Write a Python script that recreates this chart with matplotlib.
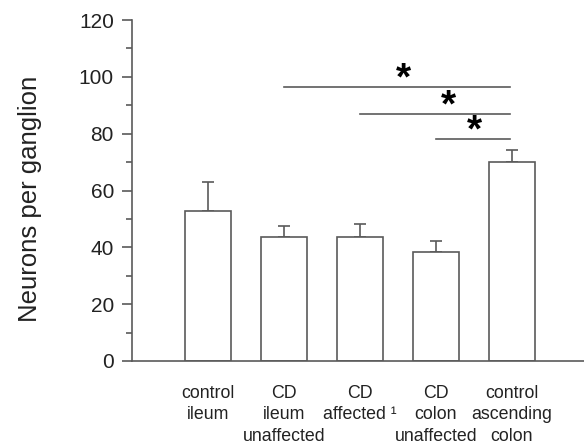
import matplotlib
matplotlib.use('Agg')
import matplotlib.pyplot as plt
import numpy as np

plt.rcParams['font.family'] = ['Liberation Sans', 'DejaVu Sans']

# data
groups = ['control\nileum', 'CD\nileum\nunaffected', 'CD\naffected \u00b9',
          'CD\ncolon\nunaffected', 'control\nascending\ncolon']
means = [52.8, 43.5, 43.6, 38.4, 70.1]
sem = [10.1, 3.9, 4.5, 3.7, 4.1]
# significance brackets: from group index to last group, at height
sig_from = [2, 3, 4]
sig_to = 5
sig_height = [96.5, 87.0, 78.0]
star_x = [3.57, 4.16, 4.5]

line_col = '#5a5a5a'
txt_col = '#222222'

fig = plt.figure(figsize=(5.84, 4.46), dpi=100)
ax = fig.add_axes([132 / 584, 1 - 361 / 446, 1 - 132 / 584, (361 - 20) / 446])

x = np.arange(1, len(means) + 1)
ax.bar(x, means, width=0.6, color='white', edgecolor=line_col, linewidth=1.2, zorder=2)
ax.errorbar(x, means, yerr=[np.zeros(len(sem)), sem], fmt='none',
            ecolor=line_col, elinewidth=1.2, capsize=4, capthick=1.2, zorder=1)

for a, h, sx in zip(sig_from, sig_height, star_x):
    ax.plot([a, sig_to - 0.03], [h, h], color=line_col, lw=1.2)
    ax.text(sx, h + 2.6, '*', ha='center', va='center',
            fontsize=28, fontweight='bold', color='black')

ax.set_xlim(0, 452 / 76)
ax.set_ylim(0, 120)
ax.set_yticks(np.arange(0, 121, 20))
ax.set_yticks(np.arange(10, 120, 20), minor=True)
ax.tick_params(axis='y', which='major', length=7, width=1.2, color=line_col,
               labelsize=15, labelcolor=txt_col, pad=6)
ax.tick_params(axis='y', which='minor', length=4, width=1.2, color=line_col)

ax.set_xticks(x)
ax.set_xticklabels(groups, fontsize=12.8, color=txt_col, linespacing=1.36)
ax.tick_params(axis='x', length=0, pad=17)

ax.set_ylabel('Neurons per ganglion', fontsize=18.5, color=txt_col)
ax.yaxis.set_label_coords(-0.2, 0.475)

for s in ['top', 'right']:
    ax.spines[s].set_visible(False)
for s in ['left', 'bottom']:
    ax.spines[s].set_color(line_col)
    ax.spines[s].set_linewidth(1.2)

fig.savefig('out.png', dpi=100)
